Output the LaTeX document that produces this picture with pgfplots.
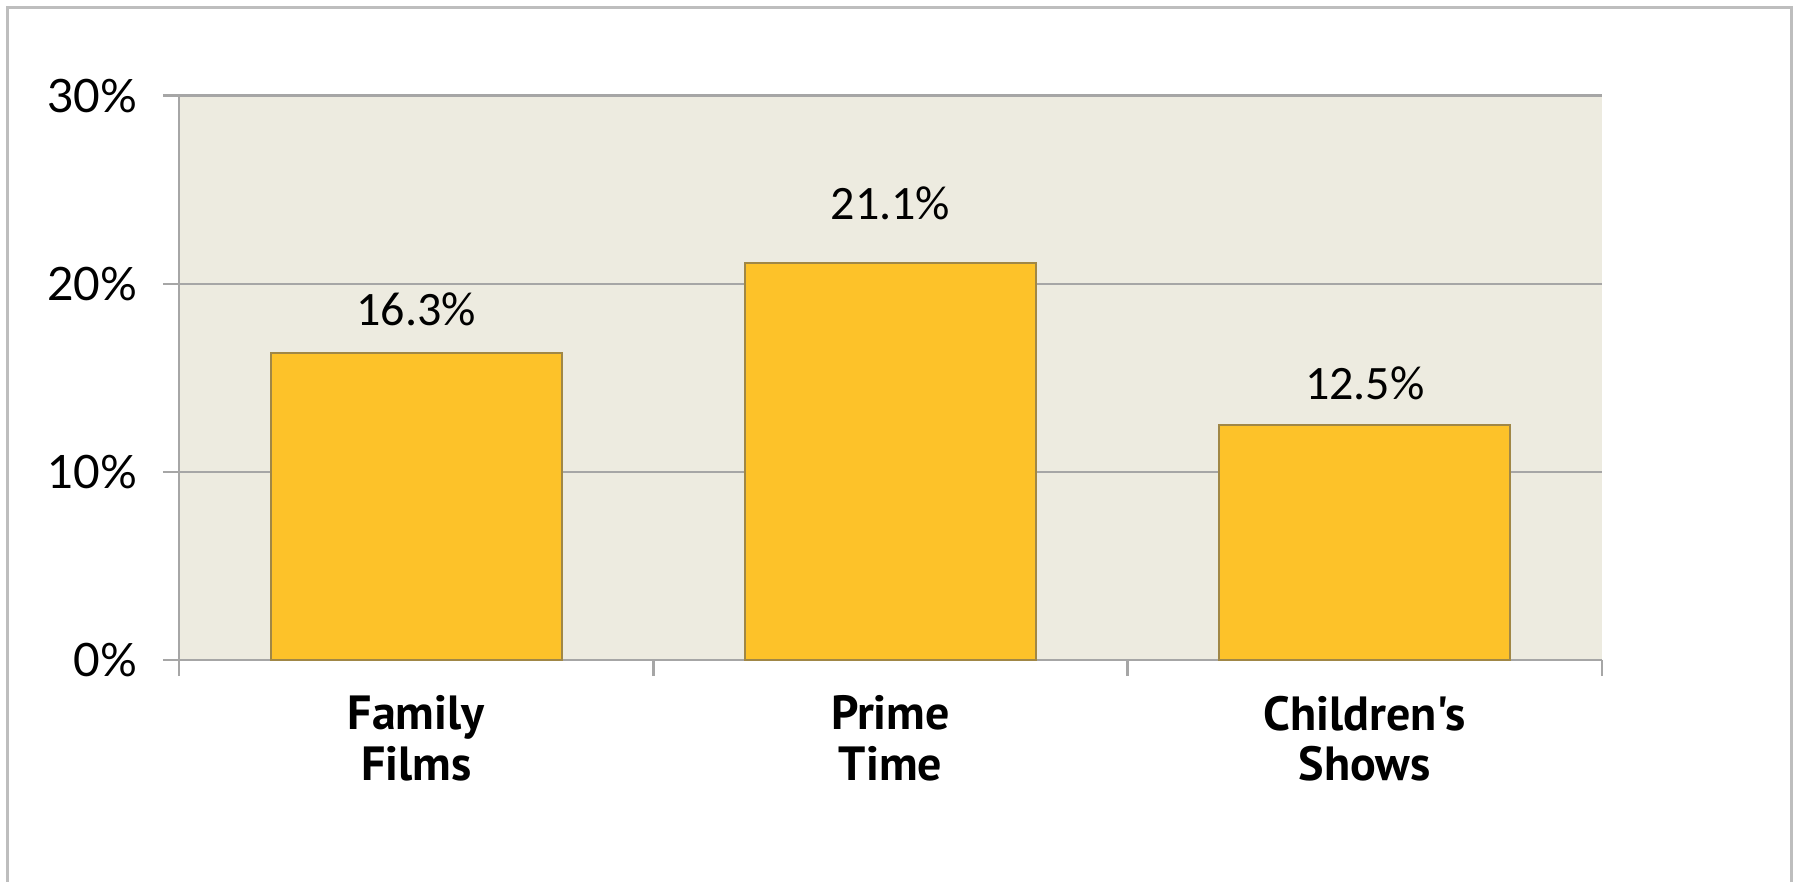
\documentclass[border=0pt]{standalone}
\usepackage{pgfplots}
\pgfplotsset{compat=1.18}
\usepackage{pgfplotstable}
\usepackage{fontspec}
\setmainfont{Carlito}
\newfontfamily\tickfont{Lato}
\newfontfamily\catfont{PT Sans}

\definecolor{plotbg}{RGB}{237,235,224}
\definecolor{bary}{RGB}{253,194,41}
\definecolor{baredge}{RGB}{160,135,70}
\definecolor{gridc}{RGB}{166,166,166}
\definecolor{framec}{RGB}{190,190,190}

% category, share (%), label lift (pt)
\pgfplotstableread{
x y off
0 16.3 6.9
1 21.1 11.0
2 12.5 6.4
}\sharedata

\begin{document}
\begin{tikzpicture}
\path[use as bounding box] (-44.75pt,-55.25pt) rectangle (406pt,165pt);
\draw[framec, line width=0.75pt] (-42.8pt,-56pt) -- (-42.8pt,163.1pt) -- (403.2pt,163.1pt) -- (403.2pt,-56pt);
\begin{axis}[
    at={(0,0)}, anchor=south west,
    scale only axis,
    width=355.75pt, height=141.1pt,
    ybar, bar width=72.75pt,
    xmin=-0.5, xmax=2.5,
    ymin=0, ymax=30,
    axis background/.style={fill=plotbg},
    axis x line*=bottom, axis y line*=left,
    axis line style={gridc, line width=0.6pt},
    ymajorgrids,
    major grid style={gridc, line width=0.6pt},
    tick align=outside,
    major tick length=4pt, minor tick length=4pt,
    tick style={gridc, line width=0.6pt},
    xtick={0,1,2},
    xticklabels={{Family\\Films},{Prime\\Time},{Children's\\Shows}},
    major x tick style={draw=none},
    minor xtick={-0.5,0.5,1.5,2.5},
    xticklabel style={font=\catfont\bfseries\fontsize{12}{12.6}\selectfont, align=center, yshift=-1.4pt},
    ytick={0,10,20,30},
    yticklabels={0\%,10\%,20\%,30\%},
    yticklabel style={font=\tickfont\fontsize{11.5}{12}\selectfont, xshift=-2.9pt},
    visualization depends on={\thisrow{off} \as \labshift},
    nodes near coords={\pgfmathprintnumber[fixed,fixed zerofill,precision=1,assume math mode=true]{\pgfplotspointmeta}\%},
    nodes near coords style={font=\fontsize{12}{14}\selectfont, anchor=base, yshift=\labshift pt, black},
]
\addplot[fill=bary, draw=baredge, line width=0.5pt] table[x=x, y=y] {\sharedata};
\end{axis}
\end{tikzpicture}
\end{document}
